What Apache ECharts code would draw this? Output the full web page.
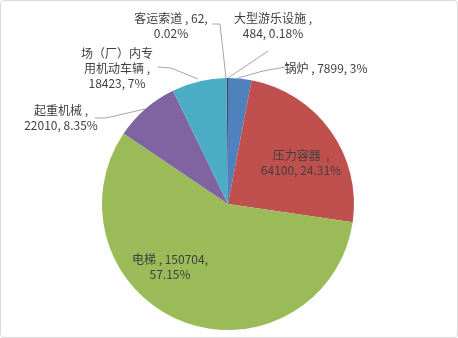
<!DOCTYPE html>
<html><head><meta charset="utf-8">
<script src="https://cdn.jsdelivr.net/npm/echarts@6/dist/echarts.min.js"></script>
<style>
html,body{margin:0;padding:0;background:#fff;}
#wrap{position:absolute;left:0;top:0;width:456px;height:336px;border:1px solid #D9D9D9;border-radius:4px;}
#c{width:456px;height:336px;}
</style></head><body>
<div id="wrap"><div id="c"></div></div>
<script>
var categories = ['锅炉','压力容器','电梯','起重机械','场（厂）内专用机动车辆','客运索道','大型游乐设施'];
var values = [7899, 64100, 150704, 22010, 18423, 62, 484];
var pctLabels = ['3%','24.31%','57.15%','8.35%','7%','0.02%','0.18%'];
var labelTexts = [
  '锅炉 , 7899, 3%',
  '压力容器  ,\n64100, 24.31%',
  '电梯 , 150704,\n57.15%',
  '起重机械 ,\n22010, 8.35%',
  '场（厂）内专\n用机动车辆 ,\n18423, 7%',
  '客运索道 , 62,\n0.02%',
  '大型游乐设施 ,\n484, 0.18%'
];
var colors = ['#4F81BD','#C0504D','#9BBB59','#8064A2','#4BACC6','#F79646','#2C4D75'];

// label placement (pixel positions) and leader lines
var layouts = [
  {x:325, y:67, line:[[237,77],[262,70],[284,66]]},
  {x:300, y:162},
  {x:169, y:266},
  {x:60, y:117, line:[[144,108],[105,117],[94,117]]},
  {x:116, y:67, line:[[197,78],[170,67],[157,66]]},
  {x:170, y:25, line:[[225,77],[219,23],[211,23]]},
  {x:272, y:25, line:[[227,77],[267,50],[267,50]]}
];

var chart = echarts.init(document.getElementById('c'));
var data = categories.map(function(n,i){
  var inside = (i===1||i===2);
  return {
    name:n, value:values[i],
    itemStyle:{color:colors[i]},
    label:{formatter:labelTexts[i]},
    labelLine:{show:!inside}
  };
});
chart.setOption({
  animation:false,
  series:[{
    type:'pie',
    center:[227,203],
    radius:126,
    startAngle:90,
    clockwise:true,
    avoidLabelOverlap:false,
    data:data,
    itemStyle:{borderWidth:0},
    label:{
      show:true,
      position:'outside',
      color:'#404040',
      fontSize:12,
      lineHeight:15,
      fontFamily:'"Noto Sans CJK SC", "Microsoft YaHei", sans-serif',
      align:'center'
    },
    labelLine:{show:true, lineStyle:{color:'#A6A6A6', width:1}, length:10, length2:10},
    labelLayout:function(p){
      var L = layouts[p.dataIndex];
      var r = {x:L.x, y:L.y, align:'center', verticalAlign:'middle'};
      if(L.line) r.labelLinePoints = L.line;
      return r;
    }
  }]
});
</script>
</body></html>
